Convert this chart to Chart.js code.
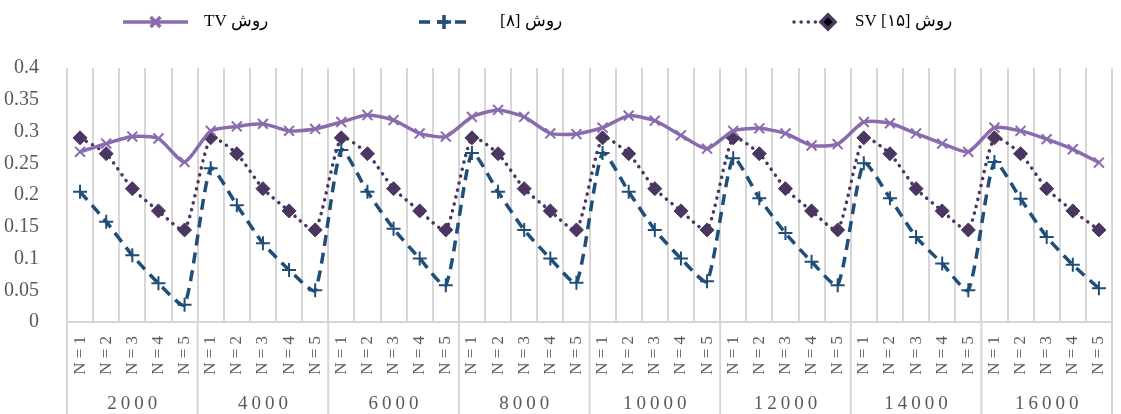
<!DOCTYPE html>
<html>
<head>
<meta charset="utf-8">
<script src="https://cdn.jsdelivr.net/npm/chart.js@4"></script>
<style>
  body { margin: 0; background: #fff; }
  canvas { display: block; }
</style>
</head>
<body>
<canvas id="c" width="1121" height="414"></canvas>
<script>
const groups = ['2000', '4000', '6000', '8000', '10000', '12000', '14000', '16000'];
const nLabels = ['N = 1', 'N = 2', 'N = 3', 'N = 4', 'N = 5'];
const yTicks = [0, 0.05, 0.1, 0.15, 0.2, 0.25, 0.3, 0.35, 0.4];

const tvValues = [
    0.268, 0.281, 0.292, 0.289, 0.252,
    0.301, 0.308, 0.312, 0.301, 0.304,
    0.315, 0.326, 0.318, 0.297, 0.292,
    0.323, 0.334, 0.323, 0.297, 0.296,
    0.306, 0.325, 0.317, 0.294, 0.273,
    0.301, 0.305, 0.297, 0.278, 0.280,
    0.315, 0.313, 0.297, 0.281, 0.268,
    0.306, 0.301, 0.288, 0.272, 0.251
];
const ref8Values = [
    0.205, 0.158, 0.105, 0.061, 0.027,
    0.242, 0.184, 0.124, 0.082, 0.050,
    0.271, 0.205, 0.147, 0.100, 0.058,
    0.266, 0.205, 0.145, 0.100, 0.062,
    0.266, 0.205, 0.145, 0.100, 0.064,
    0.258, 0.195, 0.140, 0.095, 0.058,
    0.250, 0.195, 0.134, 0.092, 0.050,
    0.252, 0.194, 0.134, 0.090, 0.053
];
const svValues = [
    0.29, 0.265, 0.21, 0.175, 0.145,
    0.29, 0.265, 0.21, 0.175, 0.145,
    0.29, 0.265, 0.21, 0.175, 0.145,
    0.29, 0.265, 0.21, 0.175, 0.145,
    0.29, 0.265, 0.21, 0.175, 0.145,
    0.29, 0.265, 0.21, 0.175, 0.145,
    0.29, 0.265, 0.21, 0.175, 0.145,
    0.29, 0.265, 0.21, 0.175, 0.145
];
const seriesNames = ['روش TV', 'روش [۸]', 'روش SV [۱۵]'];

const labels = [];
groups.forEach(() => nLabels.forEach(n => labels.push(n)));

const gray = '#595959';
const gridGray = '#d6d6d6';
const serif = '"Liberation Serif", "DejaVu Serif", serif';

// legend drawn by hand, the items are spread unevenly in the original
const legendSpots = [
    { x0: 123, x1: 188, tx: 204 },
    { x0: 419, x1: 469, tx: 500 },
    { x0: 794, x1: 828, tx: 855, markerAtEnd: true }
];

const legendPlugin = {
    id: 'handLegend',
    afterDraw(chart) {
        const ctx = chart.ctx;
        const y = 22;
        chart.data.datasets.forEach((ds, i) => {
            const s = legendSpots[i];
            ctx.save();
            ctx.strokeStyle = ds.borderColor;
            ctx.lineWidth = ds.borderWidth;
            ctx.lineCap = ds.borderCapStyle || 'butt';
            ctx.setLineDash(ds.borderDash || []);
            ctx.beginPath();
            ctx.moveTo(s.x0, y);
            ctx.lineTo(s.x1, y);
            ctx.stroke();
            ctx.setLineDash([]);
            const mx = s.markerAtEnd ? s.x1 : (s.x0 + s.x1) / 2;
            Chart.helpers.drawPoint(ctx, {
                pointStyle: ds.pointStyle,
                radius: ds.pointRadius,
                borderWidth: ds.pointBorderWidth
            }, mx, y);
            ctx.fillStyle = '#000';
            ctx.font = '17px ' + serif;
            ctx.direction = 'rtl';
            ctx.textAlign = 'left';
            ctx.textBaseline = 'middle';
            ctx.fillText(ds.label, s.tx, y);
            ctx.restore();
        });
    }
};

// group separators and the second row of x labels
const groupPlugin = {
    id: 'groupAxis',
    afterDraw(chart) {
        const ctx = chart.ctx;
        const xs = chart.scales.x;
        const area = chart.chartArea;
        const bottom = chart.height;
        ctx.save();
        ctx.strokeStyle = gridGray;
        ctx.lineWidth = 2;
        for (let g = 0; g <= groups.length; g++) {
            let x;
            if (g === 0) x = area.left;
            else if (g === groups.length) x = area.right;
            else x = (xs.getPixelForValue(g * 5 - 1) + xs.getPixelForValue(g * 5)) / 2;
            ctx.beginPath();
            ctx.moveTo(x, area.bottom);
            ctx.lineTo(x, bottom);
            ctx.stroke();
        }
        ctx.fillStyle = gray;
        ctx.font = '19px ' + serif;
        ctx.letterSpacing = '4px';
        ctx.textAlign = 'center';
        ctx.textBaseline = 'middle';
        groups.forEach((g, i) => {
            const cx = (xs.getPixelForValue(i * 5) + xs.getPixelForValue(i * 5 + 4)) / 2;
            ctx.fillText(g, cx + 2, 404);
        });
        ctx.restore();
    }
};

new Chart(document.getElementById('c'), {
    type: 'line',
    data: {
        labels: labels,
        datasets: [
            {
                label: seriesNames[0], data: tvValues,
                borderColor: '#8a6bae', backgroundColor: '#8a6bae',
                borderWidth: 3.5, tension: 0.2,
                pointStyle: 'crossRot', pointRadius: 7, pointBorderWidth: 2,
                pointBorderColor: '#8a6bae'
            },
            {
                label: seriesNames[1], data: ref8Values,
                borderColor: '#1f4e79', backgroundColor: '#1f4e79',
                borderWidth: 3.5, borderDash: [11, 7], tension: 0.2,
                pointStyle: 'cross', pointRadius: 7, pointBorderWidth: 2,
                pointBorderColor: '#1f4e79'
            },
            {
                label: seriesNames[2], data: svValues,
                borderColor: '#4a3660', backgroundColor: '#4a3660',
                borderWidth: 3.5, borderDash: [0.1, 7], borderCapStyle: 'round', tension: 0.2,
                pointStyle: 'rectRot', pointRadius: 7, pointBorderWidth: 1,
                pointBorderColor: '#4a3660'
            }
        ]
    },
    options: {
        responsive: false, animation: false,
        layout: { padding: { top: 68, left: 0, right: 2, bottom: 0 } },
        scales: {
            x: {
                offset: true,
                afterFit: s => { s.height = 92; s.paddingLeft = 0; s.paddingRight = 0; },
                grid: { color: gridGray, lineWidth: 2, offset: true, drawTicks: false },
                border: { display: true, color: gridGray, width: 2 },
                ticks: {
                    color: gray, font: { family: serif, size: 17 },
                    minRotation: 90, maxRotation: 90, autoSkip: false, padding: 14
                }
            },
            y: {
                min: 0, max: 0.4,
                afterFit: s => { s.width = 67; s.paddingTop = 0; s.paddingBottom = 0; },
                afterBuildTicks: s => { s.ticks = yTicks.map(v => ({ value: v })); },
                grid: { display: false },
                border: { display: false },
                ticks: {
                    color: gray, font: { family: serif, size: 20 }, padding: 20,
                    callback: v => String(+v.toFixed(2))
                }
            }
        },
        plugins: { legend: { display: false }, tooltip: { enabled: false } }
    },
    plugins: [legendPlugin, groupPlugin]
});
</script>
</body>
</html>
